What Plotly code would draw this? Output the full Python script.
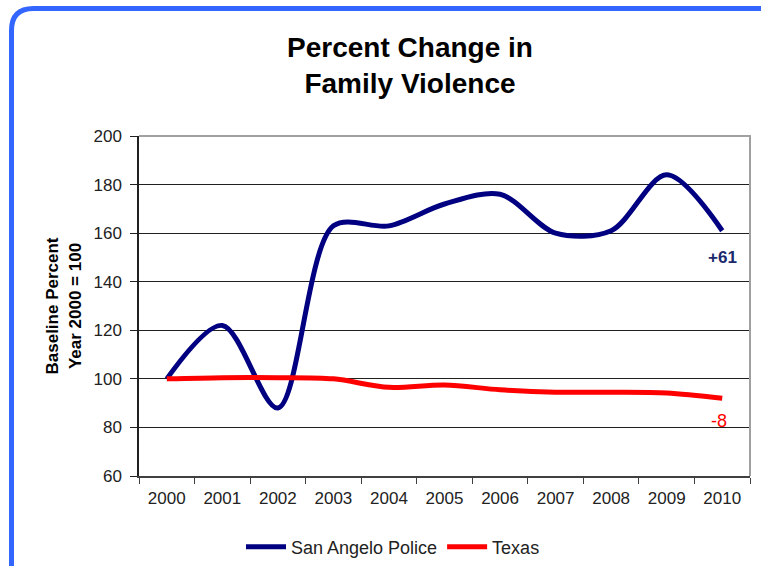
import plotly.graph_objects as go

years = ["2000", "2001", "2002", "2003", "2004", "2005", "2006", "2007", "2008", "2009", "2010"]
san_angelo = [100, 122, 88, 163, 163, 172, 176, 160, 161, 184, 161]
texas = [100, 100.5, 100.5, 100, 96.5, 97.5, 95.5, 94.5, 94.5, 94.2, 92]
y_ticks = [60, 80, 100, 120, 140, 160, 180, 200]

W, H = 761, 566
L, R, T, B = 139, 750, 136, 476

def px(x):
    return (x - L) / (R - L)

def py(y):
    return (B - y) / (B - T)

fig = go.Figure()
fig.add_trace(go.Scatter(x=years, y=san_angelo, mode="lines", name="San Angelo Police",
                         line=dict(color="#000080", width=5, shape="spline", smoothing=0.9)))
fig.add_trace(go.Scatter(x=years, y=texas, mode="lines", name="Texas",
                         line=dict(color="#ff0000", width=5, shape="spline", smoothing=0.9)))

fig.add_annotation(xref="x", yref="y", x=len(years) - 1, y=150, text="<b>+61</b>", showarrow=False,
                   font=dict(family="Liberation Sans, Arial", size=17, color="#1a2a6c"))
fig.add_annotation(xref="x", yref="y", x=len(years) - 1, y=82.8, text="-8", showarrow=False, xshift=-3,
                   font=dict(family="Liberation Sans, Arial", size=18, color="#ff0000"))

# gray top/right plot border
fig.add_shape(type="path", xref="paper", yref="paper",
              path="M 0,1 L 1,1 L 1,0", line=dict(color="#a0a0a0", width=2))

# rounded blue frame
x0, y0, x1, y1 = 11.5, 8.5, 781, 578
r = 22
path = (f"M {px(x0)},{py(y1)} L {px(x0)},{py(y0 + r)} "
        f"Q {px(x0)},{py(y0)} {px(x0 + r)},{py(y0)} "
        f"L {px(x1 - r)},{py(y0)} Q {px(x1)},{py(y0)} {px(x1)},{py(y0 + r)} "
        f"L {px(x1)},{py(y1)}")
fig.add_shape(type="path", xref="paper", yref="paper", path=path,
              line=dict(color="#3366ff", width=5))

fig.update_layout(
    width=W, height=H,
    margin=dict(l=L, r=W - R, t=T, b=H - B, autoexpand=False),
    paper_bgcolor="white", plot_bgcolor="white",
    font=dict(family="Liberation Sans, Arial", color="#222222"),
    title=dict(text="<b>Percent Change in<br>Family Violence</b>", x=410 / W, xanchor="center",
               y=1 - 57 / H, yanchor="middle",
               font=dict(size=28, color="black")),
    showlegend=True,
    legend=dict(orientation="h", x=px(393), y=py(547), xanchor="center", yanchor="middle",
                font=dict(size=18, color="#222222"), itemwidth=40, tracegroupgap=0),
    xaxis=dict(type="category", range=[-0.5, 10.5], showgrid=False, automargin=False,
               showline=True, linecolor="#404040", linewidth=1.5,
               ticks="outside", tickson="boundaries", ticklen=6, tickcolor="#404040",
               ticklabelstandoff=6,
               tickfont=dict(size=17, color="#222222")),
    yaxis=dict(range=[60, 200], tickvals=y_ticks, showgrid=True, gridcolor="#202020", gridwidth=1.3,
               automargin=False,
               showline=True, linecolor="#202020", linewidth=1.5, zeroline=False,
               ticks="outside", ticklen=7, tickcolor="#202020", ticklabelstandoff=5,
               tickfont=dict(size=17, color="#222222"),
               title=dict(text="<b>Baseline Percent<br>Year 2000 = 100</b>", standoff=8,
                          font=dict(size=17, color="black"))),
)

fig.write_html("out.html", config={"displayModeBar": False},
               post_script="document.body.style.margin='0';document.body.style.overflow='hidden';")
